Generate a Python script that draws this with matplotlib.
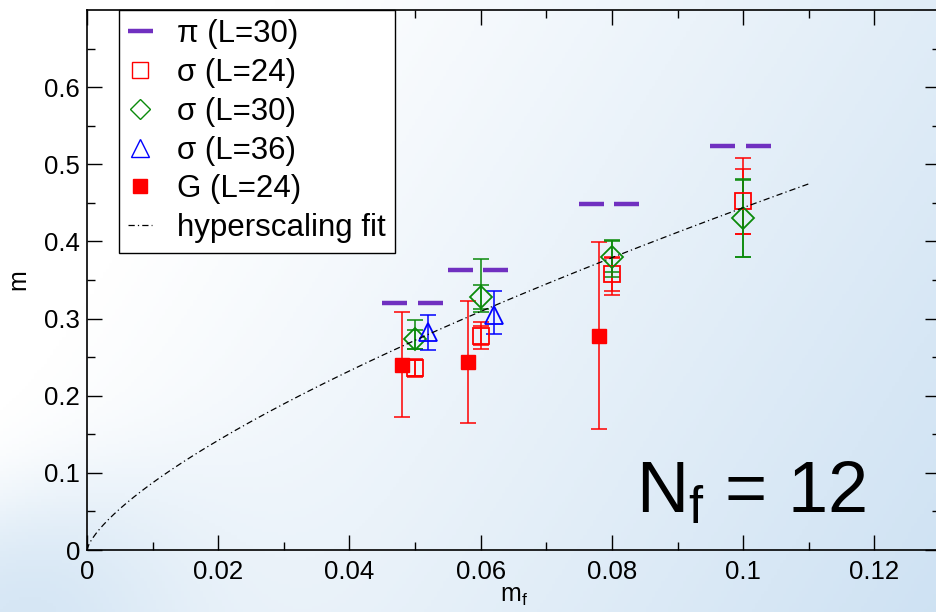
import numpy as np
import matplotlib
matplotlib.use("Agg")
import matplotlib.pyplot as plt

plt.rcParams['font.family'] = ['Liberation Sans', 'DejaVu Sans']
plt.rcParams['mathtext.fontset'] = 'custom'
plt.rcParams['mathtext.rm'] = 'Liberation Sans'
plt.rcParams['mathtext.it'] = 'Liberation Sans'
plt.rcParams['mathtext.default'] = 'regular'

# ---------------- DATA ----------------
# pi (L=30)
pi_x = [0.0495, 0.0595, 0.0795, 0.0995]
pi_y = [0.320, 0.363, 0.449, 0.524]

# sigma (L=24), red open squares
s24_x = [0.050, 0.060, 0.080, 0.100]
s24_y = [0.236, 0.278, 0.358, 0.452]
s24_lo = [0.012, 0.017, 0.028, 0.043]
s24_hi = [0.012, 0.017, 0.021, 0.056]
s24_in = [0.010, 0.012, 0.022, 0.042]

# sigma (L=30), green diamonds
s30_x = [0.050, 0.060, 0.080, 0.100]
s30_y = [0.273, 0.328, 0.380, 0.430]
s30_lo = [0.013, 0.019, 0.026, 0.050]
s30_hi = [0.025, 0.049, 0.022, 0.051]
s30_in = [0.012, 0.015, 0.020, 0.050]

# sigma (L=36), blue triangles
s36_x = [0.052, 0.062]
s36_y = [0.282, 0.305]
s36_lo = [0.023, 0.025]
s36_hi = [0.023, 0.031]

# G (L=24), red filled squares
g_x = [0.048, 0.058, 0.078]
g_y = [0.240, 0.244, 0.278]
g_err = [0.068, 0.079, 0.121]

# hyperscaling fit  m = C * mf^p
fit_C = 2.26
fit_p = 0.707
fit_xmax = 0.11

x_ticks = [0, 0.02, 0.04, 0.06, 0.08, 0.1, 0.12]
x_labels = ["0", "0.02", "0.04", "0.06", "0.08", "0.1", "0.12"]
y_ticks = [0, 0.1, 0.2, 0.3, 0.4, 0.5, 0.6]
y_labels = ["0", "0.1", "0.2", "0.3", "0.4", "0.5", "0.6"]

# ---------------- FIGURE ----------------
fig = plt.figure(figsize=(9.36, 6.12), dpi=100)

# slide-like background gradient
bg = fig.add_axes([0, 0, 1, 1], zorder=-10)
gx, gy = np.meshgrid(np.linspace(0, 1, 300), np.linspace(1, 0, 200))
v = 0.85 * gx + 0.35 * (1 - gy) - 0.25
band = 1 / (1 + np.exp(((gy - 0.2 - 0.5 * gx)) / 0.05))
v += 0.7 * np.exp(-(gx / 0.2) ** 2 - (gy / 0.3) ** 2) * band
v = np.clip(v, 0, 1)
white = np.array([1.0, 1.0, 1.0])
blue = np.array([0.80, 0.88, 0.95])
img = white[None, None, :] * (1 - v[..., None]) + blue[None, None, :] * v[..., None]
bg.imshow(img, aspect='auto', extent=[0, 1, 0, 1])
bg.axis('off')

ax = fig.add_axes([87 / 936, 62 / 612, (940 - 87) / 936, 540 / 612])
ax.set_facecolor('none')

red = '#ff0000'
green = '#0a8a0a'
blue_c = '#0000ff'
purple = '#7030c0'
eb = dict(fmt='none', elinewidth=1.1, capsize=6, capthick=1.1)

# pi: dash symbol drawn as two bars either side
for dx in (-0.0027, 0.0027):
    ax.plot(np.array(pi_x) + dx, pi_y, ls='none', marker='_', ms=18, mew=3.2,
            color=purple)

ax.errorbar(g_x, g_y, yerr=g_err, ecolor=red, **eb)
ax.errorbar(s24_x, s24_y, yerr=[s24_lo, s24_hi], ecolor=red, **eb)
ax.errorbar(s24_x, s24_y, yerr=s24_in, ecolor=red, **eb)
ax.errorbar(s30_x, s30_y, yerr=[s30_lo, s30_hi], ecolor=green, **eb)
ax.errorbar(s30_x, s30_y, yerr=s30_in, ecolor=green, **eb)
ax.errorbar(s36_x, s36_y, yerr=[s36_lo, s36_hi], ecolor=blue_c, **eb)

ax.plot(s24_x, s24_y, ls='none', marker='s', ms=11, mfc='none', mec=red, mew=1.3)
ax.plot(s30_x, s30_y, ls='none', marker='D', ms=11, mfc='none', mec=green, mew=1.3)
ax.plot(s36_x, s36_y, ls='none', marker='^', ms=13, mfc='none', mec=blue_c, mew=1.3)
ax.plot(g_x, g_y, ls='none', marker='s', ms=10, color=red)

xf = np.linspace(0, fit_xmax, 400)
ax.plot(xf, fit_C * xf ** fit_p, color='black', lw=0.9, dashes=(5, 2.5, 1, 2.5))

# legend proxies
h = [
    ax.plot([], [], ls='none', marker='_', ms=18, mew=3.2, color=purple)[0],
    ax.plot([], [], ls='none', marker='s', ms=11, mfc='none', mec=red, mew=1.0)[0],
    ax.plot([], [], ls='none', marker='D', ms=10, mfc='none', mec=green, mew=1.0)[0],
    ax.plot([], [], ls='none', marker='^', ms=13, mfc='none', mec=blue_c, mew=1.0)[0],
    ax.plot([], [], ls='none', marker='s', ms=10, color=red)[0],
    ax.plot([], [], color='black', lw=0.9, dashes=(5, 2.5, 1, 2.5))[0],
]
labels = ["π (L=30)", "σ (L=24)", "σ (L=30)", "σ (L=36)", "G (L=24)", "hyperscaling fit"]
leg = ax.legend(h, labels, loc='upper left', bbox_to_anchor=(0.0375, 1.0),
                borderaxespad=0, fontsize=22.5, frameon=True, fancybox=False,
                edgecolor='black', framealpha=1, facecolor='white',
                handlelength=0.75, handletextpad=0.8, labelspacing=0.28,
                borderpad=0.3)
leg.get_frame().set_linewidth(1.0)

ax.text(0.1012, 0.049, "N$_f$ = 12", fontsize=52, ha='center', va='baseline')

ax.set_xlim(0, 0.13)
ax.set_ylim(0, 0.7)
ax.set_xticks(x_ticks)
ax.set_xticklabels(x_labels)
ax.set_yticks(y_ticks)
ax.set_yticklabels(y_labels)
ax.set_xticks(np.arange(0.01, 0.13, 0.02), minor=True)
ax.set_yticks(np.arange(0.05, 0.7, 0.1), minor=True)
ax.tick_params(which='both', direction='in', top=True, right=True, width=1.0,
               labelsize=18.5)
ax.tick_params(which='major', length=10.5)
ax.tick_params(which='minor', length=5.5)
ax.tick_params(axis='x', pad=7)
ax.tick_params(axis='y', pad=5)
for s in ax.spines.values():
    s.set_linewidth(1.2)

ax.set_xlabel("m$_f$", fontsize=18, labelpad=0)
ax.set_ylabel("m", fontsize=18, labelpad=10)

fig.savefig("out.png", dpi=100)
